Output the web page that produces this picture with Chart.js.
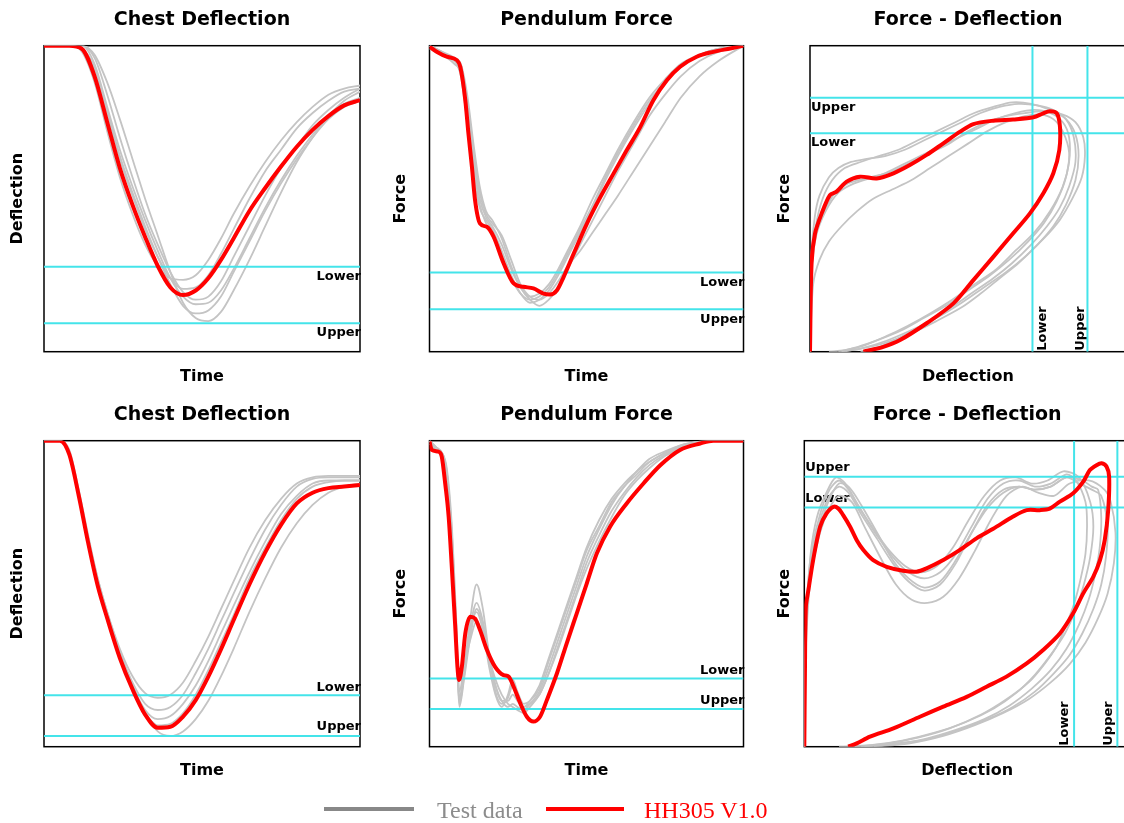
<!DOCTYPE html>
<html>
<head>
<meta charset="utf-8">
<script src="https://cdn.jsdelivr.net/npm/chart.js@4.4.0/dist/chart.umd.min.js"></script>
<style>
  html, body { margin: 0; padding: 0; background: #fff; width: 1124px; height: 823px; overflow: hidden; }
  canvas.panel { position: absolute; }
  .lg-line { position: absolute; height: 4px; }
  .lg-text { position: absolute; font: 24px 'Liberation Serif', 'Times New Roman', serif; line-height: 24px; white-space: nowrap; }
</style>
</head>
<body>
<canvas id="cdTop" class="panel"></canvas>
<canvas id="pfTop" class="panel"></canvas>
<canvas id="fdTop" class="panel"></canvas>
<canvas id="cdBot" class="panel"></canvas>
<canvas id="pfBot" class="panel"></canvas>
<canvas id="fdBot" class="panel"></canvas>

<div class="lg-line" style="left:324px;top:807px;width:90px;background:#888888"></div>
<div class="lg-text" style="left:437px;top:798px;color:#8c8c8c">Test data</div>
<div class="lg-line" style="left:546px;top:807px;width:78px;background:#ff0000"></div>
<div class="lg-text" style="left:644px;top:798px;color:#ff0000">HH305 V1.0</div>

<script>
// ── Data (all values in % of the plot range) ─────────────────────────────────

// Chest Deflection, upper row
const cdTopTime  = [0, 8, 12, 16, 20, 24, 28, 32, 36, 40, 44, 48, 52, 56, 60, 65, 70, 75, 80, 85, 90, 95, 100];
const cdTopModel = [100, 100, 99, 90, 75, 60, 48, 37.5, 28, 21, 18.5, 20, 24, 30, 37, 46, 53.5, 60.5, 67, 72.5, 77, 80.5, 82.2];
const cdTopTests = [
  [100, 100, 98, 88, 72, 57, 45, 35, 28, 24, 23.5, 25, 30, 37, 45, 54, 62, 69, 75, 80, 84, 86, 87],
  [100, 100, 100, 97, 88, 76, 63, 50, 38, 26, 16, 11, 10, 13, 20, 30, 41, 52, 62, 70, 77, 81, 83],
  [100, 100, 100, 94, 80, 66, 54, 43, 33, 24, 18, 15.5, 16, 20, 27, 37, 47, 56, 64, 71, 77, 82, 85],
  [100, 100, 99, 92, 78, 63, 51, 40, 31, 24, 20.5, 21, 25, 32, 40, 50, 59, 66, 73, 78, 82, 85, 86],
  [100, 100, 99, 93, 79, 64, 52, 41, 31, 22, 15, 12.5, 13.5, 18, 26, 36, 46, 55, 63, 70, 76, 80, 82],
  [100, 100, 100, 96, 84, 70, 57, 45, 35, 26, 19.5, 17, 18, 23, 31, 41, 51, 60, 67, 74, 79, 83, 86]
];
const cdTopLimits = [27.8, 9.3];   // lower, upper

// Pendulum Force, upper row
const pfTopModelTime = [0, 2.3, 5.5, 8.7, 9.8, 11.4, 12.4, 13.5, 14.5, 16.1, 18.3, 20.4, 23.6, 26.8, 29.9, 33.1, 36.3, 38.4, 40.6, 42.7, 45.9, 50.1, 54.4, 58.6, 62.8, 67.1, 71.3, 75.6, 79.8, 85.1, 90.4, 95.8, 100];
const pfTopModel     = [99.7, 98, 96.4, 95.3, 93.1, 82.2, 71.3, 60.5, 49.6, 41.9, 40.8, 37.6, 28.9, 22.3, 21.2, 20.7, 19, 18.7, 20.1, 24.4, 32, 41.8, 50.5, 58.2, 65.8, 73.4, 82.2, 88.7, 93.1, 96.4, 98, 99.1, 100];
const pfTopTestTime  = [0, 4, 8, 10, 12, 14, 16, 18, 20, 23, 26, 29, 32, 35, 38, 41, 44, 48, 52, 56, 60, 65, 70, 75, 80, 86, 92, 100];
const pfTopTests = [
  [100, 97, 95, 90, 75, 58, 47, 43, 40, 33, 25, 19, 16, 17, 20, 25, 31, 39, 47, 56, 64, 73, 81, 88, 93, 97, 99, 100],
  [100, 98, 96, 94, 84, 68, 54, 46, 43, 37, 28, 21, 17, 15, 17, 21, 27, 35, 43, 51, 59, 68, 77, 84, 90, 95, 98, 100],
  [99, 97, 95, 92, 80, 63, 50, 44, 41, 35, 27, 21, 18, 19, 22, 27, 33, 41, 50, 58, 66, 75, 83, 89, 94, 97, 99, 100],
  [100, 98, 95, 93, 82, 66, 52, 45, 42, 38, 30, 22, 18, 17, 19, 23, 28, 33, 39, 45, 51, 59, 67, 75, 83, 90, 95, 100],
  [100, 97, 94, 91, 78, 60, 48, 42, 38, 31, 24, 19, 17, 18, 21, 26, 32, 40, 48, 57, 65, 74, 82, 88, 93, 97, 99, 100]
];
const pfTopLimits = [25.9, 13.9];  // lower, upper

// Force - Deflection, upper row
const fdTopModelDefl  = [0, 0.5, 1.6, 3.7, 6.3, 8.4, 11.6, 15.8, 21.1, 26.4, 31.6, 36.9, 42.2, 47.5, 51.7, 58, 64.3, 70.7, 73.8, 75.9, 78.1, 79.1, 78.9, 77, 73.8, 69.6, 64.3, 58, 51.7, 45.4, 36.9, 28.5, 23.2, 16.9];
const fdTopModelForce = [0, 28.9, 38.7, 45.2, 51.2, 52.3, 55.6, 57.2, 56.6, 58.3, 61, 64.3, 68.1, 71.9, 74.4, 75.5, 75.9, 76.6, 77.9, 78.6, 77.9, 73.5, 65.9, 58.3, 51.7, 45.2, 38.7, 31, 23.4, 15.8, 9.3, 3.8, 1.6, 0];
const fdTopTestDefl = [
  [0, 0.5, 2, 4, 7, 11, 16, 22, 28, 34, 40, 46, 52, 58, 64, 70, 76, 81, 84, 85, 84, 81, 77, 72, 66, 60, 54, 48, 40, 32, 24, 16, 10],
  [0, 1, 3, 6, 10, 15, 20, 26, 32, 38, 44, 50, 56, 62, 68, 73, 77, 80, 82, 81, 78, 74, 69, 63, 57, 50, 43, 36, 29, 22, 15, 9],
  [0, 0.5, 2, 5, 9, 14, 20, 26, 32, 38, 44, 50, 56, 62, 68, 74, 80, 84, 86.5, 87, 86, 83, 79, 74, 68, 62, 55, 48, 40, 32, 24, 16, 10],
  [0, 0.5, 2, 5, 8, 12, 17, 23, 29, 35, 41, 47, 53, 59, 65, 71, 76, 80, 82, 82, 80, 76, 71, 65, 59, 52, 45, 38, 31, 24, 17, 11, 6],
  [0, 0.5, 1.5, 3, 6, 9, 13, 18, 24, 30, 36, 42, 48, 54, 60, 66, 72, 77, 81, 83.5, 84, 82, 79, 75, 70, 64, 58, 51, 44, 37, 30, 23, 16]
];
const fdTopTestForce = [
  [0, 30, 42, 50, 56, 60, 62, 64, 66, 69, 72, 75, 78, 80, 81.5, 81, 79, 76, 71, 64, 56, 48, 41, 35, 29, 24, 19, 14.5, 10, 6, 3, 1, 0],
  [0, 22, 30, 36, 41, 46, 50, 53, 56, 60, 64, 68, 72, 75, 77, 77.5, 76, 72, 65, 57, 49, 42, 36, 30, 25, 20, 15, 11, 7, 4, 1.5, 0],
  [0, 26, 38, 46, 52, 55, 57, 59, 62, 65, 68, 72, 75, 77, 78, 78.5, 77.5, 75, 70, 64, 57, 50, 43, 37, 31, 26, 21, 16, 11, 7, 3.5, 1, 0],
  [0, 28, 40, 47, 52, 55, 56.5, 58, 61, 64, 67, 70, 73, 76, 78, 79, 78, 75, 70, 62, 54, 46, 39, 33, 27, 22, 17, 12.5, 8.5, 5, 2, 0.5, 0],
  [0, 32, 44, 51, 57, 60, 62, 63, 64, 66, 69, 72, 75, 78, 80, 81, 80.5, 79, 76, 70, 62, 54, 47, 41, 35, 29, 24, 19, 14, 9.5, 5.5, 2, 0]
];
const fdTopForceLimits = [71.4, 83.0];  // lower, upper
const fdTopDeflLimits  = [70.4, 87.8];  // lower, upper

// Chest Deflection, lower row
const cdBotTime  = [0, 5, 8, 11, 14, 17, 20, 24, 28, 32, 36, 40, 44, 48, 52, 56, 60, 65, 70, 75, 80, 85, 90, 95, 100];
const cdBotModel = [100, 100, 95.5, 82, 66.5, 52.6, 42, 29, 18.8, 10.5, 6.2, 6.5, 9.8, 15.2, 22.9, 31.8, 41.3, 53, 63.5, 72.5, 79.5, 83, 84.5, 85, 85.5];
const cdBotTests = [
  [100, 100, 96, 83, 68, 55, 44, 32, 23, 17.5, 16, 17, 21, 28, 36, 45, 54, 65, 74, 81, 86, 88, 88.5, 88.5, 88.5],
  [100, 100, 96, 83, 68, 54, 43, 31, 21, 14, 12, 13, 17, 24, 32, 41, 50, 61, 71, 79, 85, 87.5, 88, 88, 88],
  [100, 100, 96, 82, 67, 54, 43, 30, 20, 12, 9, 10, 14, 20, 28, 37, 46, 57, 67, 76, 82, 86, 87, 87, 87],
  [100, 100, 97, 84, 69, 55, 44, 31, 20, 11, 5, 3.5, 5, 9, 15, 23, 32, 44, 55, 65, 73, 79, 83, 85, 86],
  [100, 100, 96, 82, 67, 53, 42, 30, 19, 11, 7, 7.5, 11, 17, 25, 34, 43, 55, 65, 74, 81, 85, 86.5, 87, 87]
];
const cdBotLimits = [16.8, 3.5];   // lower, upper

// Pendulum Force, lower row
const pfBotModelTime = [0, 0.7, 2.9, 3.9, 5, 6.1, 7.1, 8.2, 8.9, 9.4, 10.3, 11.4, 13, 14.5, 16.1, 18.3, 20.9, 23.6, 25.2, 26.8, 28.9, 31, 33.1, 35.2, 37.4, 40.6, 43.7, 46.9, 50.1, 53.3, 57.5, 62.8, 68.2, 73.5, 79.8, 86.2, 90.4, 100];
const pfBotModel     = [99.7, 97, 96.4, 94.8, 86, 75.2, 58.8, 39.2, 26.1, 21.8, 26.1, 37, 42.5, 41.9, 38.1, 31.6, 26.1, 23.4, 22.9, 19.6, 14.2, 9.8, 8.2, 9.8, 15.3, 24, 33.8, 43.6, 53.4, 63.2, 71.9, 79.5, 86.1, 92, 97, 99.1, 100, 100];
const pfBotTestTime  = [0, 2, 4, 5.5, 7, 8.5, 9.5, 11, 13, 15, 17, 19, 21, 23, 25, 26.5, 28, 30, 32, 35, 38, 41, 44, 47, 50, 54, 58, 62, 66, 70, 75, 80, 85, 90, 100];
const pfBotTests = [
  [100, 97, 96, 90, 72, 40, 16, 25, 42, 53, 45, 30, 18, 14, 16, 20, 16, 13, 14, 17, 24, 33, 42, 51, 60, 69, 77, 83, 88, 92, 95.5, 98, 99.5, 100, 100],
  [100, 98, 95, 88, 68, 35, 13, 22, 36, 45, 40, 28, 20, 15, 13, 14, 13, 12, 14, 18, 26, 35, 44, 53, 62, 71, 79, 85, 89, 93, 96, 98.5, 99.5, 100, 100],
  [99, 97, 96, 89, 70, 38, 15, 24, 38, 44, 38, 26, 17, 13, 17, 22, 18, 14, 15, 19, 28, 37, 46, 55, 64, 72, 80, 85, 90, 93, 96, 98, 99.5, 100, 100],
  [100, 98, 96, 91, 74, 42, 18, 26, 35, 41, 37, 29, 22, 17, 14, 13, 12, 11, 13, 17, 24, 32, 41, 50, 58, 67, 75, 82, 87, 91, 95, 97.5, 99, 100, 100],
  [100, 97, 95, 89, 70, 37, 14, 23, 39, 47, 41, 30, 20, 15, 15, 17, 15, 13, 15, 20, 29, 38, 47, 56, 65, 74, 81, 86, 90, 94, 96.5, 98.5, 99.5, 100, 100]
];
const pfBotLimits = [22.3, 12.3];  // lower, upper

// Force - Deflection, lower row
const fdBotModelDefl  = [0, 0.2, 0.5, 1.3, 2.8, 5, 7.1, 9.2, 10.8, 12.3, 14.5, 16.6, 18.7, 21.8, 26.1, 31.3, 35.5, 38.7, 44, 49.3, 54.5, 59.8, 66.1, 70.4, 74.6, 77.7, 80.9, 85.1, 88.3, 90.4, 92.5, 94.1, 95.7, 96.5, 96.2, 95.1, 93.6, 91.5, 88.3, 85.1, 80.9, 75.6, 70.4, 64, 57.7, 51.4, 44, 36.6, 28.2, 20.8, 16.6, 13.9];
const fdBotModelForce = [0, 24, 45.8, 51.2, 61, 71.9, 76.3, 78.4, 77.8, 75.7, 71.9, 67.5, 64.3, 61, 58.8, 57.5, 57.2, 58.3, 61, 64.3, 68.1, 71.2, 75.2, 77.3, 77.3, 77.8, 80.1, 82.8, 86.6, 90.4, 92, 92.6, 91.5, 88.2, 77.3, 67.5, 61, 55.6, 50.1, 43.6, 37, 31.6, 27.2, 22.9, 19.6, 16.3, 13.1, 9.8, 6, 3.3, 1.1, 0];
const fdBotTestDefl = [
  [0, 0.5, 2, 5, 8, 11, 14, 18, 23, 28, 33, 38, 43, 48, 53, 58, 63, 68, 73, 78, 83, 86, 89, 89.5, 89, 87.5, 85.5, 83, 80, 76, 71, 64, 56, 46, 36, 26, 16],
  [0, 0.5, 2, 5, 8, 11, 14, 18, 23, 28, 33, 38, 43, 48, 53, 58, 63, 68, 73, 78, 83, 88, 91, 93, 94, 93.5, 92, 90, 87, 83, 78, 72, 65, 57, 48, 38, 28, 18],
  [0, 0.5, 2, 5, 8, 11, 15, 19, 24, 29, 34, 39, 44, 49, 54, 59, 64, 69, 74, 79, 84, 90, 95, 97, 98.5, 98, 96, 93, 89, 84, 78, 71, 63, 54, 44, 33, 22],
  [0, 0.5, 2, 4, 7, 10, 13, 17, 22, 27, 32, 37, 42, 47, 52, 57, 62, 67, 72, 77, 82, 87, 90.5, 91.5, 90.5, 88.5, 86, 82.5, 78, 73, 67, 60, 51, 41, 31, 21, 11],
  [0, 0.5, 2, 5, 8, 11, 14, 18, 23, 28, 33, 38, 43, 48, 53, 58, 63, 68, 73, 78, 83, 87, 91, 94, 96, 95.5, 94, 91.5, 88, 84, 79, 73, 66, 58, 49, 39, 29, 19]
];
const fdBotTestForce = [
  [0, 38, 62, 76, 84, 87, 84, 77, 69, 62, 57, 55, 57, 63, 72, 81, 86, 87, 85, 86, 89, 87, 80, 72, 63, 55, 47, 40, 33, 27, 21, 15.5, 10.5, 6, 3, 1, 0],
  [0, 35, 60, 74, 82, 85, 83, 76, 68, 60, 54, 51, 53, 60, 70, 79, 84, 85, 84, 85, 88, 87, 85, 84, 75, 65, 56, 48, 40, 32, 25, 19, 13.5, 9, 5.5, 2.5, 0.8, 0],
  [0, 32, 55, 70, 78, 82, 80, 72, 62, 53, 48, 47, 49, 55, 64, 74, 82, 85, 83, 82, 86, 87, 84, 80, 70, 60, 50, 42, 34, 27, 21, 15.5, 11, 7, 3.5, 1, 0],
  [0, 40, 63, 75, 83, 88, 86, 79, 71, 64, 59, 57, 59, 65, 74, 82, 87, 88, 86, 87, 90, 88, 80, 72, 62, 53, 45, 37, 30, 23.5, 17.5, 12.5, 8, 4.5, 2, 0.5, 0],
  [0, 36, 58, 72, 81, 86, 85, 79, 70, 61, 55, 52, 54, 61, 70, 78, 83, 85, 84, 85, 88, 86, 84, 82, 72, 62, 53, 45, 37, 30, 24, 18, 13, 9, 5.5, 2.5, 1, 0]
];
const fdBotForceLimits = [78.2, 88.2];  // lower, upper
const fdBotDeflLimits  = [85.4, 99.1];  // lower, upper

// ── Styling ──────────────────────────────────────────────────────────────────
const FONT  = "'DejaVu Sans', Verdana, sans-serif";
const RED   = '#ff0000';
const GREY  = '#c4c4c4';
const CYAN  = '#44e4ea';

const pts = (xs, ys) => xs.map((x, i) => ({ x, y: ys[i] }));

function modelSet(data, loop) {
  return Object.assign({ data, borderColor: RED, borderWidth: 4, order: 0 },
    loop ? { tension: 0.3 } : { cubicInterpolationMode: 'monotone' });
}
function testSet(data, loop) {
  return Object.assign({ data, borderColor: GREY, borderWidth: 1.8, order: 2 },
    loop ? { tension: 0.3 } : { cubicInterpolationMode: 'monotone' });
}
function hLimit(v, xMax) { return { data: pts([0, xMax], [v, v]), borderColor: CYAN, borderWidth: 2, order: 1 }; }
function vLimit(v)       { return { data: pts([v, v], [0, 100]),   borderColor: CYAN, borderWidth: 2, order: 1 }; }

// Frame round the plot + Lower/Upper labels (drawn under the curves)
const framePlugin = {
  id: 'frame',
  beforeDatasetsDraw(chart, args, opts) {
    const { ctx, chartArea: a } = chart;
    const sx = chart.scales.x, sy = chart.scales.y;
    ctx.save();
    ctx.strokeStyle = '#000';
    ctx.lineWidth = 1.5;
    ctx.strokeRect(a.left, a.top, a.right - a.left, a.bottom - a.top);
    ctx.fillStyle = '#000';
    ctx.font = `bold 13px ${FONT}`;
    ctx.textBaseline = 'middle';
    (opts.h || []).forEach(l => {
      ctx.textAlign = l.align;
      ctx.fillText(l.text, l.align === 'right' ? a.right + 1 : a.left + 1, sy.getPixelForValue(l.value) + l.dy);
    });
    (opts.v || []).forEach(l => {
      ctx.save();
      ctx.translate(sx.getPixelForValue(l.value) + l.dx, a.bottom - 1);
      ctx.rotate(-Math.PI / 2);
      ctx.textAlign = 'left';
      ctx.fillText(l.text, 0, 0);
      ctx.restore();
    });
    ctx.restore();
  }
};

function panel(id, L, datasets, labels, xMax) {
  const cv = document.getElementById(id);
  cv.width = L.w; cv.height = L.h;
  cv.style.left = L.left + 'px';
  cv.style.top  = L.top + 'px';
  const axisFont = { family: FONT, size: 16, weight: 'bold', lineHeight: 1.2 };
  return new Chart(cv, {
    type: 'line',
    data: { datasets },
    options: {
      responsive: false,
      animation: false,
      events: [],
      layout: { padding: { left: 0, top: 0, bottom: 0, right: L.left + L.w - L.plotR } },
      elements: { point: { radius: 0 } },
      plugins: {
        legend: { display: false },
        tooltip: { enabled: false },
        title: {
          display: true, text: L.title, fullSize: false, color: '#000',
          font: { family: FONT, size: 19, weight: 'bold', lineHeight: 1.2 },
          padding: { top: L.titleY - L.top - 11.4, bottom: L.plotT - L.titleY - 11.4 }
        },
        frame: labels
      },
      scales: {
        x: {
          type: 'linear', min: 0, max: xMax,
          ticks: { display: false }, grid: { display: false }, border: { display: false },
          title: { display: true, text: L.xLabel, color: '#000', font: axisFont,
                   padding: { top: 0, bottom: L.top + L.h - L.xLabelY - 9.6 } },
          afterFit: s => { s.height = L.top + L.h - L.plotB; }
        },
        y: {
          type: 'linear', min: 0, max: 100,
          ticks: { display: false }, grid: { display: false }, border: { display: false },
          title: { display: true, text: L.yLabel, color: '#000', font: axisFont,
                   padding: { top: L.yLabelX - L.left - 9.6, bottom: 0 } },
          afterFit: s => { s.width = L.plotL - L.left; }
        }
      }
    },
    plugins: [framePlugin]
  });
}

// ── Panels ───────────────────────────────────────────────────────────────────
const TOP = { top: 0,   h: 395, plotT: 45.7,  plotB: 351.7, titleY: 20,  xLabelY: 376.7 };
const BOT = { top: 395, h: 428, plotT: 440.7, plotB: 746.7, titleY: 415, xLabelY: 770.7 };
const COL1 = { left: 0,   w: 372, plotL: 44,    plotR: 360,    yLabelX: 18 };
const COL2 = { left: 380, w: 372, plotL: 429.5, plotR: 743.5,  yLabelX: 400.7 };
const COL3T = { left: 760, w: 370, plotL: 810,  plotR: 1126,   yLabelX: 785 };
const COL3B = { left: 760, w: 374, plotL: 804.3, plotR: 1130,  yLabelX: 785 };

const cdText = { title: 'Chest Deflection', xLabel: 'Time', yLabel: 'Deflection' };
const pfText = { title: 'Pendulum Force', xLabel: 'Time', yLabel: 'Force' };
const fdText = { title: 'Force - Deflection', xLabel: 'Deflection', yLabel: 'Force' };

// Chest Deflection (top)
panel('cdTop', Object.assign({}, TOP, COL1, cdText), [
  modelSet(pts(cdTopTime, cdTopModel)),
  hLimit(cdTopLimits[0], 100), hLimit(cdTopLimits[1], 100),
  ...cdTopTests.map(s => testSet(pts(cdTopTime, s)))
], { h: [
  { value: cdTopLimits[0], text: 'Lower', align: 'right', dy: 10 },
  { value: cdTopLimits[1], text: 'Upper', align: 'right', dy: 9 }
] }, 100);

// Pendulum Force (top)
panel('pfTop', Object.assign({}, TOP, COL2, pfText), [
  modelSet(pts(pfTopModelTime, pfTopModel)),
  hLimit(pfTopLimits[0], 100), hLimit(pfTopLimits[1], 100),
  ...pfTopTests.map(s => testSet(pts(pfTopTestTime, s)))
], { h: [
  { value: pfTopLimits[0], text: 'Lower', align: 'right', dy: 10 },
  { value: pfTopLimits[1], text: 'Upper', align: 'right', dy: 10 }
] }, 100);

// Force - Deflection (top)
panel('fdTop', Object.assign({}, TOP, COL3T, fdText), [
  modelSet(pts(fdTopModelDefl, fdTopModelForce), true),
  hLimit(fdTopForceLimits[0], 100), hLimit(fdTopForceLimits[1], 100),
  vLimit(fdTopDeflLimits[0]), vLimit(fdTopDeflLimits[1]),
  ...fdTopTestDefl.map((d, i) => testSet(pts(d, fdTopTestForce[i]), true))
], {
  h: [
    { value: fdTopForceLimits[1], text: 'Upper', align: 'left', dy: 10 },
    { value: fdTopForceLimits[0], text: 'Lower', align: 'left', dy: 9 }
  ],
  v: [
    { value: fdTopDeflLimits[0], text: 'Lower', dx: 10 },
    { value: fdTopDeflLimits[1], text: 'Upper', dx: -7 }
  ]
}, 100);

// Chest Deflection (bottom)
panel('cdBot', Object.assign({}, BOT, COL1, cdText), [
  modelSet(pts(cdBotTime, cdBotModel)),
  hLimit(cdBotLimits[0], 100), hLimit(cdBotLimits[1], 100),
  ...cdBotTests.map(s => testSet(pts(cdBotTime, s)))
], { h: [
  { value: cdBotLimits[0], text: 'Lower', align: 'right', dy: -8 },
  { value: cdBotLimits[1], text: 'Upper', align: 'right', dy: -9 }
] }, 100);

// Pendulum Force (bottom)
panel('pfBot', Object.assign({}, BOT, COL2, pfText), [
  modelSet(pts(pfBotModelTime, pfBotModel)),
  hLimit(pfBotLimits[0], 100), hLimit(pfBotLimits[1], 100),
  ...pfBotTests.map(s => testSet(pts(pfBotTestTime, s)))
], { h: [
  { value: pfBotLimits[0], text: 'Lower', align: 'right', dy: -8 },
  { value: pfBotLimits[1], text: 'Upper', align: 'right', dy: -8 }
] }, 100);

// Force - Deflection (bottom) – plot runs past the right edge of the page
const fdBotMax = 103.1;
panel('fdBot', Object.assign({}, BOT, COL3B, fdText), [
  modelSet(pts(fdBotModelDefl, fdBotModelForce), true),
  hLimit(fdBotForceLimits[0], fdBotMax), hLimit(fdBotForceLimits[1], fdBotMax),
  vLimit(fdBotDeflLimits[0]), vLimit(fdBotDeflLimits[1]),
  ...fdBotTestDefl.map((d, i) => testSet(pts(d, fdBotTestForce[i]), true))
], {
  h: [
    { value: fdBotForceLimits[1], text: 'Upper', align: 'left', dy: -9 },
    { value: fdBotForceLimits[0], text: 'Lower', align: 'left', dy: -9 }
  ],
  v: [
    { value: fdBotDeflLimits[0], text: 'Lower', dx: -9 },
    { value: fdBotDeflLimits[1], text: 'Upper', dx: -9 }
  ]
}, fdBotMax);
</script>
</body>
</html>
